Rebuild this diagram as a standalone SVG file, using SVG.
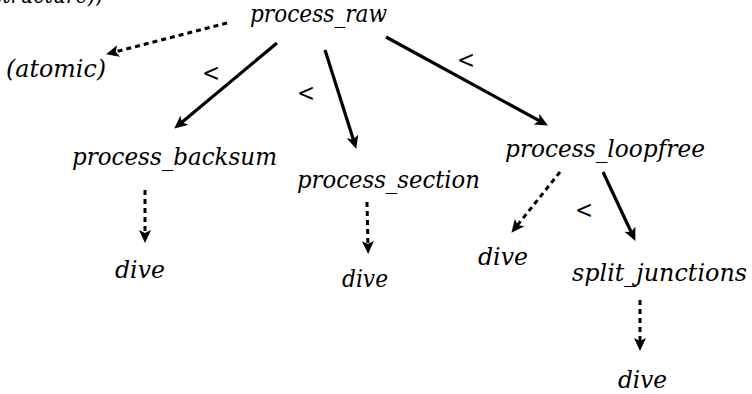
<svg xmlns="http://www.w3.org/2000/svg" width="752" height="394" viewBox="0 0 752 394">
  <style>
    .lbl { font-family: "DejaVu Serif", "Liberation Serif", serif; font-style: italic; font-size: 25px; fill: #000; }
    .rel { font-family: "DejaVu Serif", "Liberation Serif", serif; font-size: 24px; fill: #000; }
    .solid { stroke: #000; stroke-width: 3.2; fill: none; marker-end: url(#head); }
    .dash { stroke: #000; stroke-width: 3; fill: none; stroke-dasharray: 5 4; marker-end: url(#head); }
  </style>
  <defs>
    <marker id="head" markerUnits="userSpaceOnUse" markerWidth="15" markerHeight="13" refX="5" refY="6.5" orient="auto">
      <path d="M0,0.5 L13,6.5 L0,12.5 L3,6.5 Z" fill="#000"/>
    </marker>
  </defs>
  <rect width="752" height="394" fill="#fff"/>

  <!-- tail of the preceding sentence, cut at the top edge -->
  <text class="lbl" x="-8" y="3" textLength="110" lengthAdjust="spacingAndGlyphs">structure),</text>

  <g id="connectors">
    <line class="dash" x1="227" y1="23" x2="113.8" y2="52.3"/>
    <line class="solid" x1="277" y1="43" x2="180.4" y2="123.5"/>
    <line class="solid" x1="325" y1="50" x2="353.9" y2="141.3"/>
    <line class="solid" x1="386" y1="37" x2="540.9" y2="121.6"/>
    <line class="dash" x1="145" y1="190" x2="145" y2="235"/>
    <line class="dash" x1="367" y1="202" x2="368" y2="246"/>
    <line class="dash" x1="560" y1="172" x2="516.4" y2="226.5"/>
    <line class="solid" x1="603" y1="172" x2="632" y2="233.7"/>
    <line class="dash" x1="640" y1="300" x2="640" y2="343"/>
    <text class="rel" x="202" y="81" textLength="18" lengthAdjust="spacingAndGlyphs">&lt;</text>
    <text class="rel" x="297" y="101" textLength="18" lengthAdjust="spacingAndGlyphs">&lt;</text>
    <text class="rel" x="457" y="68" textLength="18" lengthAdjust="spacingAndGlyphs">&lt;</text>
    <text class="rel" x="575" y="218" textLength="18" lengthAdjust="spacingAndGlyphs">&lt;</text>
  </g>

  <g id="process_raw"><text class="lbl" x="250" y="22" textLength="137" lengthAdjust="spacingAndGlyphs">process_raw</text></g>
  <g id="atomic"><text class="lbl" x="6" y="77" textLength="100" lengthAdjust="spacingAndGlyphs">(atomic)</text></g>
  <g id="process_backsum"><text class="lbl" x="72" y="165" textLength="205" lengthAdjust="spacingAndGlyphs">process_backsum</text></g>
  <g id="dive_backsum"><text class="lbl" x="115" y="278" textLength="50" lengthAdjust="spacingAndGlyphs">dive</text></g>
  <g id="process_section"><text class="lbl" x="297" y="188" textLength="183" lengthAdjust="spacingAndGlyphs">process_section</text></g>
  <g id="dive_section"><text class="lbl" x="342" y="287" textLength="46" lengthAdjust="spacingAndGlyphs">dive</text></g>
  <g id="process_loopfree"><text class="lbl" x="505" y="157" textLength="200" lengthAdjust="spacingAndGlyphs">process_loopfree</text></g>
  <g id="dive_loopfree"><text class="lbl" x="478" y="265" textLength="50" lengthAdjust="spacingAndGlyphs">dive</text></g>
  <g id="split_junctions"><text class="lbl" x="572" y="281" textLength="175" lengthAdjust="spacingAndGlyphs">split_junctions</text></g>
  <g id="dive_split"><text class="lbl" x="618" y="388" textLength="49" lengthAdjust="spacingAndGlyphs">dive</text></g>
</svg>
